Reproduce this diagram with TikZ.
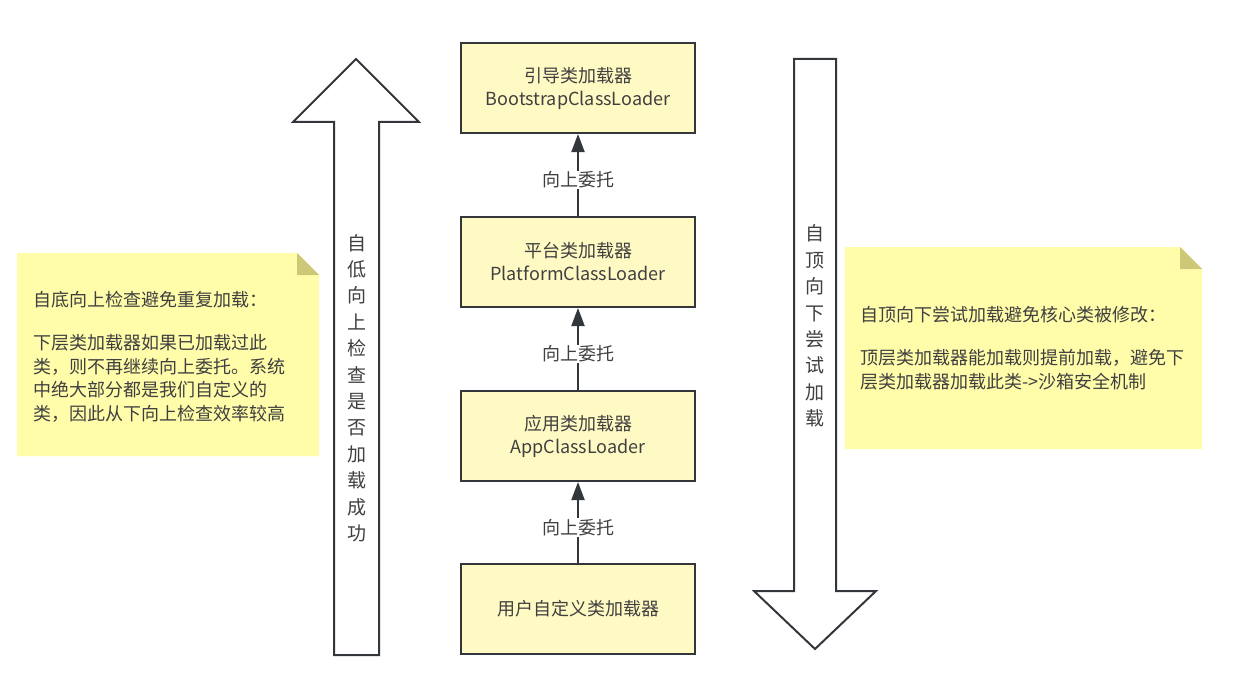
\documentclass[tikz,border=0pt]{standalone}
\usepackage{fontspec}
\setmainfont{Noto Sans CJK SC}
\usetikzlibrary{arrows.meta}
\definecolor{boxfill}{RGB}{255,249,196}
\definecolor{notefill}{RGB}{255,252,170}
\definecolor{foldc}{RGB}{204,200,120}
\definecolor{linec}{RGB}{51,55,60}
\definecolor{txt}{RGB}{64,64,64}
\tikzset{
  loader/.style={draw=linec, line width=2pt, fill=boxfill, minimum width=234pt, minimum height=90pt,
    align=center, text=txt, font=\fontsize{18}{23}\selectfont, inner sep=0pt},
  conn/.style={draw=linec, line width=2pt, -{Triangle[length=18pt,width=13pt]}},
  lbl/.style={fill=white, text=txt, font=\fontsize{18}{22}\selectfont, inner sep=1pt},
  bigarrow/.style={draw=linec, line width=2pt, fill=white, line join=miter},
  notebody/.style={fill=notefill},
  notefold/.style={fill=foldc},
  notetext/.style={anchor=north west, align=left, inner sep=0pt, text=txt, font=\fontsize{18}{23.5}\selectfont},
  vtext/.style={align=center, inner sep=0pt, text=txt, font=\fontsize{19}{26.4}\selectfont}
}
\begin{document}
\begin{tikzpicture}[x=1pt,y=-1pt]
\useasboundingbox (0,0) rectangle (1247,682);
% big arrows
\draw[bigarrow] (356,59) -- (419,122) -- (379,122) -- (379,655) -- (334,655) -- (334,122) -- (293,122) -- cycle;
\node[vtext] (up) at (357,388) {自\\低\\向\\上\\检\\查\\是\\否\\加\\载\\成\\功};
\draw[bigarrow] (794,59) -- (836,59) -- (836,591) -- (876,591) -- (815,649) -- (754,591) -- (794,591) -- cycle;
\node[vtext] (down) at (815,326) {自\\顶\\向\\下\\尝\\试\\加\\载};
% loaders
\node[loader] (b1) at (578,88) {引导类加载器\\BootstrapClassLoader};
\node[loader] (b2) at (578,262) {平台类加载器\\PlatformClassLoader};
\node[loader] (b3) at (578,436) {应用类加载器\\AppClassLoader};
\node[loader] (b4) at (578,609) {用户自定义类加载器};
\draw[conn] (b2.north) -- node[lbl,pos=0.44]{向上委托} (b1.south);
\draw[conn] (b3.north) -- node[lbl,pos=0.44]{向上委托} (b2.south);
\draw[conn] (b4.north) -- node[lbl,pos=0.44]{向上委托} (b3.south);
% left note
\fill[notebody] (17,253) -- (297,253) -- (319,275) -- (319,456) -- (17,456) -- cycle;
\fill[notefold] (297,253) -- (319,275) -- (297,275) -- cycle;
\node[notetext] (n1) at (33,291) {自底向上检查避免重复加载：\\[20pt]下层类加载器如果已加载过此\\类，则不再继续向上委托。系统\\中绝大部分都是我们自定义的\\类，因此从下向上检查效率较高};
% right note
\fill[notebody] (845,247) -- (1180,247) -- (1202,269) -- (1202,449) -- (845,449) -- cycle;
\fill[notefold] (1180,247) -- (1202,269) -- (1180,269) -- cycle;
\node[notetext] (n2) at (860,306) {自顶向下尝试加载避免核心类被修改：\\[20pt]顶层类加载器能加载则提前加载，避免下\\层类加载器加载此类->沙箱安全机制};
\end{tikzpicture}
\end{document}
